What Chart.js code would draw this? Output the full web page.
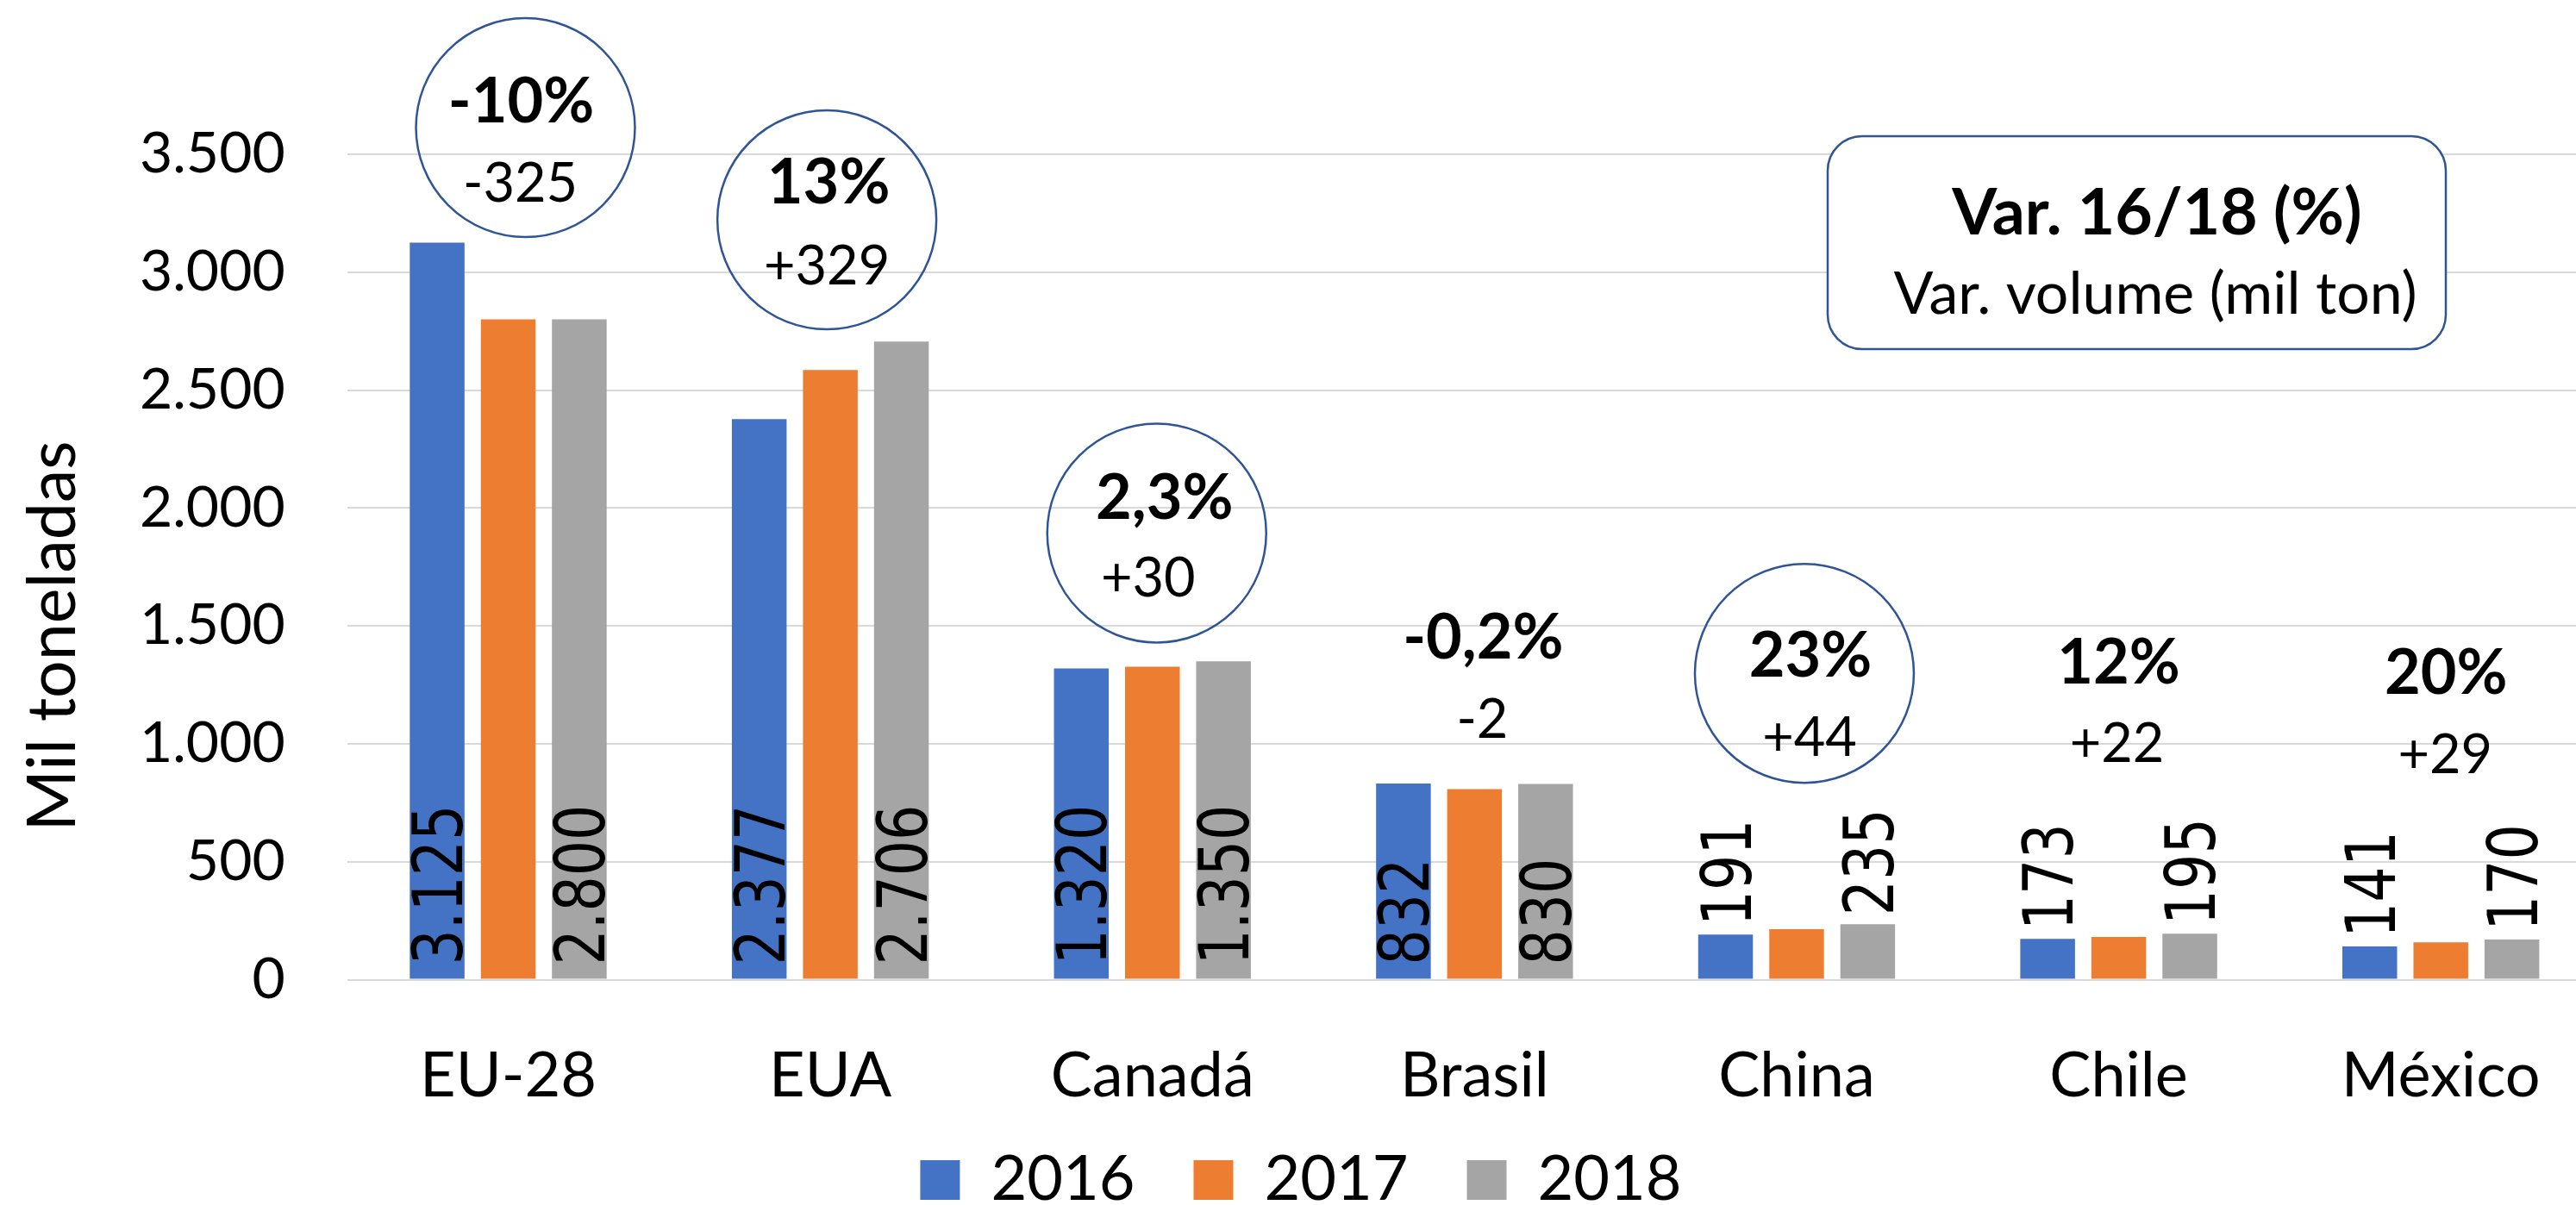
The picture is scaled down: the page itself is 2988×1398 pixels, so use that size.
<!DOCTYPE html>
<html><head><meta charset="utf-8">
<script src="https://cdn.jsdelivr.net/npm/chart.js@4.4.1/dist/chart.umd.min.js"></script>
<style>
html,body{margin:0;padding:0;background:#fff;overflow:hidden;width:2988px;height:1398px}
#wrap{position:relative;width:3030px;height:1420px}
canvas{display:block}
</style></head><body><div id="wrap"><canvas id="c" width="3030" height="1420"></canvas></div>
<script>
// ---- data ----
const categories = ['EU-28','EUA','Canadá','Brasil','China','Chile','México'];
const seriesNames = ['2016','2017','2018'];
const values2016 = [3125, 2377, 1320, 832, 191, 173, 141];
const values2017 = [2800, 2585, 1327, 808, 214, 181, 158];
const values2018 = [2800, 2706, 1350, 830, 235, 195, 170];
const yTicks = [0, 500, 1000, 1500, 2000, 2500, 3000, 3500];
const varPct = ['-10%','13%','2,3%','-0,2%','23%','12%','20%'];
const varVol = ['-325','+329','+30','-2','+44','+22','+29'];
const circled = [true, true, true, false, true, false, false];
const axisTitle = 'Mil toneladas';
const boxTitle = 'Var. 16/18 (%)';
const boxSubtitle = 'Var. volume (mil ton)';
const labeledSeries = [0, 2];

// ---- layout / style (not data) ----
const COLORS = ['#4472C4', '#ED7D31', '#A5A5A5'];
const RING = '#2F5597';
const annLayout = {
  pctY:  [3728, 3385, 2050, 1455, 1380, 1349, 1305],
  volY:  [3382, 3031, 1706, 1108, 1031, 1004, 958],
  ringY: [3613, 3222, 1894, null, 1299, null, null],
  pctDx: [15, -2, 14, 10, 16, 0, 6],
  volDx: [14, -4, -5, 9, 15, -2, 5],
  ringDx:[20, -4, 5, 0, 9, 0, 0],
  ringR: 127
};

const fmt = v => String(v).replace(/\B(?=(\d{3})+(?!\d))/g, '.');

function capText(ctx, t, cx, cy, size, weight, family, cap) {
  ctx.font = `${weight} ${size}px ${family}`;
  ctx.textAlign = 'center';
  ctx.textBaseline = 'alphabetic';
  ctx.fillText(t, cx, cy + size * cap / 2);
}

const dataLabelPlugin = {
  id: 'dataLabels',
  afterDatasetsDraw(chart) {
    const ctx = chart.ctx;
    const size = 80, sx = 0.812, cap = 0.729;
    ctx.save();
    ctx.font = `${size}px "DejaVu Sans"`;
    ctx.fillStyle = '#000';
    ctx.textAlign = 'left';
    ctx.textBaseline = 'alphabetic';
    labeledSeries.forEach(di => {
      const meta = chart.getDatasetMeta(di);
      meta.data.forEach((bar, i) => {
        const txt = fmt(chart.data.datasets[di].data[i]);
        const len = ctx.measureText(txt).width * sx;
        const startY = (bar.base - bar.y >= len + 30) ? bar.base - 16 : bar.y - 10;
        ctx.save();
        ctx.translate(bar.x + size * cap / 2, startY);
        ctx.rotate(-Math.PI / 2);
        ctx.scale(sx, 1);
        ctx.fillText(txt, 0, 0);
        ctx.restore();
      });
    });
    ctx.restore();
  }
};

const annPlugin = {
  id: 'ann',
  afterDraw(chart) {
    const {ctx, scales: {x, y}} = chart;
    const L = annLayout;
    ctx.save();
    ctx.fillStyle = '#000';
    // axis title
    ctx.save();
    ctx.translate(59.5 + 77 * 0.7165 / 2, 738);
    ctx.rotate(-Math.PI / 2);
    ctx.font = '77px Lato';
    ctx.textAlign = 'center';
    ctx.textBaseline = 'alphabetic';
    ctx.fillText(axisTitle, 0, 0);
    ctx.restore();

    // category labels, under the axis
    chart.data.labels.forEach((lab, i) => {
      capText(ctx, lab, x.getPixelForValue(i), y.bottom + 109.5, 72, 'normal', 'Lato', 0.7165);
    });

    categories.forEach((c, i) => {
      const cx = x.getPixelForValue(i);
      if (circled[i]) {
        ctx.beginPath();
        ctx.ellipse(cx + L.ringDx[i], y.getPixelForValue(L.ringY[i]), L.ringR, L.ringR, 0, 0, Math.PI * 2);
        ctx.strokeStyle = RING;
        ctx.lineWidth = 2.5;
        ctx.stroke();
      }
      capText(ctx, varPct[i], cx + L.pctDx[i], y.getPixelForValue(L.pctY[i]), 72, 'bold', 'Lato', 0.7165);
      capText(ctx, varVol[i], cx + L.volDx[i], y.getPixelForValue(L.volY[i]), 63, 'normal', 'Lato', 0.7165);
    });

    // info box
    const bx = 2120, by = 158, bw = 717, bh = 247, r = 40;
    ctx.beginPath();
    ctx.roundRect(bx, by, bw, bh, r);
    ctx.fillStyle = '#fff';
    ctx.fill();
    ctx.strokeStyle = RING;
    ctx.lineWidth = 2.5;
    ctx.stroke();
    ctx.fillStyle = '#000';
    capText(ctx, boxTitle, 2502, 245, 75, 'bold', 'Lato', 0.7165);
    capText(ctx, boxSubtitle, 2500, 340, 68, 'normal', 'Lato', 0.7165);
    ctx.restore();
  }
};

function makeChart() {
  new Chart(document.getElementById('c'), {
    type: 'bar',
    data: {
      labels: categories,
      datasets: [
        {label: seriesNames[0], data: values2016, backgroundColor: COLORS[0]},
        {label: seriesNames[1], data: values2017, backgroundColor: COLORS[1]},
        {label: seriesNames[2], data: values2018, backgroundColor: COLORS[2]}
      ]
    },
    options: {
      responsive: false,
      animation: false,
      devicePixelRatio: 1,
      layout: {padding: {left: 0, right: 12, top: 179, bottom: 5}},
      datasets: {bar: {categoryPercentage: 0.662, barPercentage: 0.77}},
      plugins: {
        legend: {
          position: 'bottom',
          labels: {font: {family: 'Lato', size: 72}, color: '#000', boxWidth: 46, boxHeight: 46, padding: 68}
        },
        tooltip: {enabled: false}
      },
      scales: {
        x: {
          grid: {display: false},
          border: {display: false},
          ticks: {display: false},
          afterFit(s) { s.height = 128.4; }
        },
        y: {
          min: 0, max: 3500,
          grid: {color: '#D9D9D9', lineWidth: 2, drawTicks: false},
          border: {display: false},
          ticks: {font: {family: 'Lato', size: 66}, color: '#000', padding: 72, callback: v => fmt(v)},
          afterBuildTicks(s) { s.ticks = yTicks.map(v => ({value: v})); },
          afterFit(s) { s.width = 402.7; }
        }
      }
    },
    plugins: [dataLabelPlugin, annPlugin]
  });
}

Promise.all([
  document.fonts.load('72px Lato'),
  document.fonts.load('bold 72px Lato'),
  document.fonts.load('80px "DejaVu Sans"')
]).then(makeChart, makeChart);
</script></body></html>
